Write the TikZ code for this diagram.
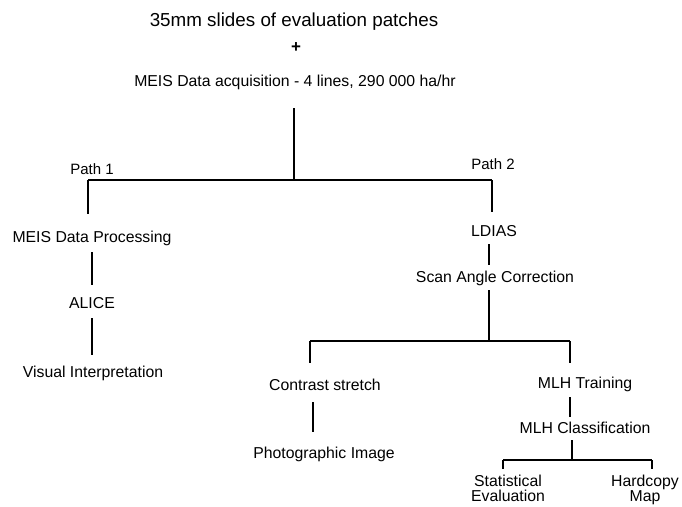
\documentclass[tikz,border=0pt]{standalone}
\usepackage{fontspec}
\setmainfont{Liberation Sans}
\begin{document}
\begin{tikzpicture}[x=1pt,y=-1pt,
  lbl/.style={inner sep=0pt, anchor=base, font=\fontsize{15.8}{16}\selectfont, text height=11.5pt, text depth=3.5pt, align=center},
  twolbl/.style={inner sep=0pt, anchor=base, font=\fontsize{15.8}{15.5}\selectfont, align=center},
  pathlbl/.style={lbl, font=\fontsize{15}{16}\selectfont},
  ln/.style={line width=1.8pt}]
\useasboundingbox[fill=white] (0,0) rectangle (682,506);

% texts
\node[lbl, font=\fontsize{18.8}{20}\selectfont] (title) at (294,26.8) {35mm slides of evaluation patches};
\node[inner sep=0pt, font=\fontsize{17}{18}\selectfont\bfseries] (plus) at (296,48) {+};
\node[lbl] (acq) at (295,86.7) {MEIS Data acquisition - 4 lines, 290 000 ha/hr};
\node[pathlbl] (path1) at (92,174.7) {Path 1};
\node[pathlbl] (path2) at (493,169.7) {Path 2};
\node[lbl] (mp) at (92,242.7) {MEIS Data Processing};
\node[lbl] (alice) at (92,308.7) {ALICE};
\node[lbl] (vis) at (93,377.7) {Visual Interpretation};
\node[lbl] (ldias) at (494,236.7) {LDIAS};
\node[lbl] (sac) at (495,282.7) {Scan Angle Correction};
\node[lbl] (cs) at (325,390.7) {Contrast stretch};
\node[lbl] (photo) at (324,458.7) {Photographic Image};
\node[lbl] (mlht) at (585,388.7) {MLH Training};
\node[lbl] (mlhc) at (585,433.7) {MLH Classification};
\node[twolbl] (stat) at (508,501.5) {Statistical\\Evaluation};
\node[twolbl] (hard) at (645,501.5) {Hardcopy\\Map};

% junctions
\coordinate (j1) at (294,180);
\coordinate (jL) at (88,180);
\coordinate (jR) at (492,180);
\coordinate (j3) at (489,341);
\coordinate (j3L) at (310,341);
\coordinate (j3R) at (570,341);
\coordinate (j4) at (572,460);
\coordinate (j4L) at (503,460);
\coordinate (j4R) at (652,460);

% connectors
\draw[ln, shorten <=18pt] (acq.south -| j1) -- (j1);
\draw[ln] (jL) -- (jR);
\draw[ln, shorten >=17pt] (jL) -- (jL |- mp.north);
\draw[ln, shorten <=6pt, shorten >=12pt] (mp.south) -- (alice.north);
\draw[ln, shorten <=6pt, shorten >=11pt] (alice.south) -- (vis.north -| alice.south);
\draw[ln, shorten >=13pt] (jR) -- (jR |- ldias.north);
\draw[ln, shorten <=4pt, shorten >=6pt] (ldias.south -| j3) -- (sac.north -| j3);
\draw[ln, shorten <=4pt] (sac.south -| j3) -- (j3);
\draw[ln] (j3L) -- (j3R);
\draw[ln, shorten >=16pt] (j3L) -- (j3L |- cs.north);
\draw[ln, shorten >=14pt] (j3R) -- (j3R |- mlht.north);
\draw[ln, shorten <=8pt, shorten >=15pt] ([xshift=-12pt]cs.south) -- ([xshift=-12pt]cs.south |- photo.north);
\draw[ln, shorten <=5pt, shorten >=5pt] (mlht.south -| j3R) -- (mlhc.north -| j3R);
\draw[ln, shorten <=3pt] (mlhc.south -| j4) -- (j4);
\draw[ln] (j4L) -- (j4R);
\draw[ln, shorten >=5pt] (j4L) -- (j4L |- stat.north);
\draw[ln, shorten >=5pt] (j4R) -- (j4R |- hard.north);
\end{tikzpicture}
\end{document}
